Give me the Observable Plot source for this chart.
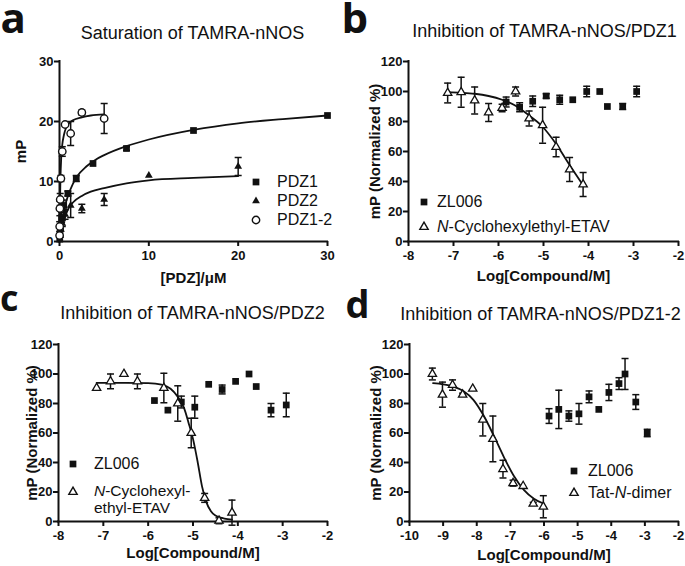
<!DOCTYPE html>
<html><head><meta charset="utf-8">
<script src="https://cdn.jsdelivr.net/npm/d3@7"></script>
<script src="https://cdn.jsdelivr.net/npm/@observablehq/plot@0.6"></script>
<style>
body{margin:0;background:#fff;}
#root{position:relative;width:685px;height:566px;overflow:hidden;background:#fff;font-family:"Liberation Sans",Arial,sans-serif;color:#111;}
.panel{position:absolute;}
.title{position:absolute;width:400px;text-align:center;font-size:18px;line-height:18px;white-space:nowrap;}
.letter{position:absolute;font-family:"Open Sans",sans-serif;font-weight:bold;white-space:nowrap;color:#111;}
.leg{position:absolute;font-size:16px;line-height:16px;white-space:nowrap;}
.sym{position:absolute;overflow:visible;}
</style></head><body><div id="root"></div>
<script>
// ---------- Panel a: Saturation of TAMRA-nNOS ----------
const aPdz1X = [30, 15, 7.5, 3.75, 1.875, 0.9375, 0.469, 0.234, 0.117, 0.059, 0.029];
const aPdz1Y = [21, 18.5, 15.5, 13, 10.5, 8, 6, 4, 2.2, 1.2, 0.4];
const aPdz1Err = [0, 0, 0.3, 0, 0.5, 0.4, 0.9, 0.8, 0, 0, 0];
const aPdz2X = [20, 10, 5, 2.5, 1.25, 0.625, 0.3125, 0.156, 0.078];
const aPdz2Y = [12.5, 11, 7, 5.5, 6, 4.5, 3, 2, 1];
const aPdz2Err = [1.5, 0, 1, 0.7, 2, 0.8, 0.5, 0, 0];
const aPdz12X = [5, 2.5, 1.25, 0.625, 0.3125, 0.156, 0.078, 0.039, 0.0195, 0.0098];
const aPdz12Y = [20.5, 21.5, 18, 19.5, 15, 10.5, 7, 5.5, 2.5, 1];
const aPdz12Err = [2.5, 0.4, 2, 0, 0.8, 0.5, 1, 1.2, 0.8, 0];
const aFit1X = [0, 0.3, 0.6, 1, 1.5, 2, 3, 4, 5, 7.5, 10, 15, 20, 25, 30];
const aFit1Y = [0, 3.2, 5.8, 7.8, 9.6, 10.9, 12.5, 13.6, 14.4, 15.9, 17, 18.6, 19.7, 20.4, 21];
const aFit2X = [0, 0.3, 0.6, 1, 1.5, 2.5, 3.5, 5, 7.5, 10, 15, 20];
const aFit2Y = [0, 2.2, 4, 5.5, 6.5, 7.6, 8.3, 8.9, 9.7, 10.2, 10.6, 10.9];
const aFit12X = [0, 0.05, 0.1, 0.2, 0.3, 0.5, 0.75, 1, 1.5, 2.5, 3.5, 5];
const aFit12Y = [0, 6, 10, 14.2, 16, 17.8, 19, 19.6, 20.2, 20.7, 21, 21.2];
const aTicks = [0, 10, 20, 30];

// ---------- Panel b: Inhibition of TAMRA-nNOS/PDZ1 ----------
const bEtavX = [-7.13, -6.83, -6.53, -6.22, -5.92, -5.62, -5.32, -5.02, -4.72, -4.42, -4.12];
const bEtavY = [99, 99.5, 94, 86, 89, 100, 82, 77.5, 63, 48, 38];
const bEtavErr = [6.6, 10, 9, 6, 2.5, 3, 5, 12, 6.5, 8, 8];
const bZlX = [-5.83, -5.53, -5.24, -4.94, -4.64, -4.35, -4.04, -3.75, -3.58, -3.24, -2.93];
const bZlY = [93, 89.5, 93.5, 97, 94.5, 94.5, 100, 100, 90, 90, 100];
const bZlErr = [3.3, 3, 3.5, 1.5, 3, 0, 3.5, 0, 0, 2, 3.5];
const bFitX = [-7.13, -6.83, -6.53, -6.22, -5.92, -5.62, -5.32, -5.02, -4.72, -4.42, -4.12];
const bFitY = [99.6, 99.2, 98.5, 97, 94.5, 90.5, 84, 76.5, 65, 51, 37.5];

// ---------- Panel c: Inhibition of TAMRA-nNOS/PDZ2 ----------
const cEtavX = [-7.15, -6.84, -6.54, -6.24, -5.65, -5.34, -5.04, -4.74, -4.42, -4.13];
const cEtavY = [90.5, 95, 100, 95, 90.5, 80, 60, 16, 0.5, 6];
const cEtavErr = [0, 5, 0, 5, 10, 12, 10, 3, 2, 8.5];
const cZlX = [-5.86, -5.56, -5.26, -4.96, -4.65, -4.35, -4.05, -3.75, -3.59, -3.26, -2.92];
const cZlY = [82, 75.5, 81, 77.5, 93, 89.5, 95, 100, 91.5, 75.5, 79];
const cZlErr = [0, 0, 4, 7.5, 0, 3, 0, 0, 0, 4.5, 8];
const cFitX = [-7.15, -6.5, -6, -5.7, -5.5, -5.35, -5.2, -5.1, -5.0, -4.9, -4.8, -4.7, -4.6, -4.5, -4.3, -4.13];
const cFitY = [94, 94, 93.8, 92.8, 90, 85, 77, 67, 56, 41, 24, 13, 7, 4, 2, 1.3];

// ---------- Panel d: Inhibition of TAMRA-nNOS/PDZ1-2 ----------
const dDimerX = [-9.32, -9.02, -8.72, -8.42, -8.12, -7.82, -7.52, -7.22, -6.92, -6.62, -6.32, -6.02];
const dDimerY = [100, 86, 92.5, 86, 90, 69, 56, 35.5, 26, 24, 12, 10];
const dDimerErr = [4, 8.5, 3.5, 1, 0, 11, 15.5, 6, 2, 0, 1, 7.5];
const dZlX = [-5.85, -5.56, -5.26, -4.96, -4.66, -4.37, -4.07, -3.77, -3.59, -3.27, -2.93];
const dZlY = [71.5, 76, 71.5, 73, 84.5, 76, 87.5, 93.5, 100, 81, 60];
const dZlErr = [5, 13, 3.5, 7, 4, 0, 5.5, 4, 10.5, 5, 2.5];
const dFitX = [-9.3, -9.0, -8.7, -8.4, -8.1, -7.8, -7.5, -7.2, -6.9, -6.6, -6.3, -6.0];
const dFitY = [93.8, 93, 91.5, 88.5, 82.5, 72, 58.5, 44, 31, 21.5, 15.5, 12];

const inhYTicks = [0, 20, 40, 60, 80, 100, 120];
const bcXTicks = [-8, -7, -6, -5, -4, -3, -2];
const dXTicks = [-10, -9, -8, -7, -6, -5, -4, -3, -2];

// ---------- helpers ----------
const INK = "#111";
const capSym = {draw(ctx) { ctx.moveTo(-3.5, 0); ctx.lineTo(3.5, 0); }};
const rows = (xs, ys, es) => xs.map((x, i) => ({x, y: ys[i], e: es ? es[i] : 0}));
const SQ = {symbol: "square", r: 3.8, fill: INK, stroke: "none"};
const TRI_OPEN = {symbol: "triangle", r: 3.1, fill: "white", stroke: INK, strokeWidth: 1.3};
const TRI_FILL = {symbol: "triangle", r: 2.9, fill: INK, stroke: "none"};
const CIRC = {symbol: "circle", r: 3.7, fill: "white", stroke: INK, strokeWidth: 1.4};

function errMarks(data) {
  const d = data.filter(r => r.e > 0);
  return [
    Plot.ruleX(d, {x: "x", y1: r => r.y - r.e, y2: r => r.y + r.e, stroke: INK, strokeWidth: 1.5}),
    Plot.dot(d, {x: "x", y: r => r.y - r.e, symbol: capSym, stroke: INK, strokeWidth: 1.5, fill: "none"}),
    Plot.dot(d, {x: "x", y: r => r.y + r.e, symbol: capSym, stroke: INK, strokeWidth: 1.5, fill: "none"})
  ];
}
function series(data, sym) {
  return [...errMarks(data), Plot.dot(data, {x: "x", y: "y", ...sym})];
}
function fit(xs, ys) {
  return Plot.line(rows(xs, ys), {x: "x", y: "y", curve: "monotone-x", stroke: INK, strokeWidth: 1.8});
}

const root = document.getElementById("root");
function panel(o) {
  const svg = Plot.plot({
    width: o.w, height: o.h,
    marginLeft: o.mL, marginRight: o.mR, marginTop: o.mT, marginBottom: o.mB,
    style: {background: "transparent", overflow: "visible", fontFamily: '"Liberation Sans", Arial, sans-serif', color: INK},
    x: {domain: o.xDom},
    y: {domain: o.yDom},
    marks: [
      Plot.axisX({ticks: o.xTicks, tickFormat: d => String(d), tickSize: 5, tickPadding: 4, fontSize: 13, fontWeight: "bold", strokeWidth: 2, label: null}),
      Plot.axisX({ticks: [], label: o.xLabel, labelAnchor: "center", labelOffset: o.xOff, labelArrow: "none", fontSize: 15, fontWeight: "bold"}),
      Plot.axisY({ticks: o.yTicks, tickFormat: d => String(d), tickSize: 5, tickPadding: 1, fontSize: 13, fontWeight: "bold", strokeWidth: 2, label: null}),
      Plot.axisY({ticks: [], label: o.yLabel, labelAnchor: "center", labelOffset: o.yOff, labelArrow: "none", fontSize: 15, fontWeight: "bold"}),
      ...o.marks,
      Plot.ruleX([o.xDom[0]], {stroke: INK, strokeWidth: 2, strokeLinecap: "square"}),
      Plot.ruleY([o.yDom[0]], {stroke: INK, strokeWidth: 2, strokeLinecap: "square"}),
      ...o.front
    ]
  });
  svg.classList.add("panel");
  svg.style.left = o.left + "px";
  svg.style.top = o.top + "px";
  root.appendChild(svg);
}

// Panel a
panel({
  left: 0, top: 0, w: 340, h: 290, mL: 59, mR: 13, mT: 61, mB: 49,
  xDom: [0, 30], yDom: [0, 30], xTicks: aTicks, yTicks: aTicks,
  xLabel: "[PDZ]/μM", xOff: 41, yLabel: "mP", yOff: 44,
  marks: [fit(aFit1X, aFit1Y), fit(aFit2X, aFit2Y), fit(aFit12X, aFit12Y)],
  front: [
    ...series(rows(aPdz1X, aPdz1Y, aPdz1Err), SQ),
    ...series(rows(aPdz2X, aPdz2Y, aPdz2Err), TRI_FILL),
    ...series(rows(aPdz12X, aPdz12Y, aPdz12Err), CIRC)
  ]
});
// Panel b
panel({
  left: 340, top: 0, w: 345, h: 290, mL: 68, mR: 7, mT: 61, mB: 49,
  xDom: [-8, -2], yDom: [0, 120], xTicks: bcXTicks, yTicks: inhYTicks,
  xLabel: "Log[Compound/M]", xOff: 39, yLabel: "mP (Normalized %)", yOff: 39,
  marks: [fit(bFitX, bFitY)],
  front: [
    ...series(rows(bZlX, bZlY, bZlErr), SQ),
    ...series(rows(bEtavX, bEtavY, bEtavErr), TRI_OPEN)
  ]
});
// Panel c
panel({
  left: 0, top: 283, w: 340, h: 283, mL: 58, mR: 13, mT: 61, mB: 45,
  xDom: [-8, -2], yDom: [0, 120], xTicks: bcXTicks, yTicks: inhYTicks,
  xLabel: "Log[Compound/M]", xOff: 36, yLabel: "mP (Normalized %)", yOff: 32,
  marks: [fit(cFitX, cFitY)],
  front: [
    ...series(rows(cZlX, cZlY, cZlErr), SQ),
    ...series(rows(cEtavX, cEtavY, cEtavErr), TRI_OPEN)
  ]
});
// Panel d
panel({
  left: 340, top: 283, w: 345, h: 283, mL: 69, mR: 7, mT: 61, mB: 45,
  xDom: [-10, -2], yDom: [0, 120], xTicks: dXTicks, yTicks: inhYTicks,
  xLabel: "Log[Compound/M]", xOff: 38, yLabel: "mP (Normalized %)", yOff: 39,
  marks: [fit(dFitX, dFitY)],
  front: [
    ...series(rows(dZlX, dZlY, dZlErr), SQ),
    ...series(rows(dDimerX, dDimerY, dDimerErr), TRI_OPEN)
  ]
});

// ---------- titles, panel letters, legends ----------
function addDiv(cls, html, css) {
  const el = document.createElement("div");
  el.className = cls;
  el.innerHTML = html;
  Object.assign(el.style, css);
  root.appendChild(el);
}
const titles = [
  ["Saturation of TAMRA-nNOS", 192.5, 39.5],
  ["Inhibition of TAMRA-nNOS/PDZ1", 544.5, 37.5],
  ["Inhibition of TAMRA-nNOS/PDZ2", 192.5, 319],
  ["Inhibition of TAMRA-nNOS/PDZ1-2", 540.5, 320.5]
];
titles.forEach(([t, cx, base]) => addDiv("title", t, {left: (cx - 200) + "px", top: (base - 0.8465 * 18) + "px"}));

// [letter, left, baseline, font size]; line box = 0.72 * size keeps it inside the page
const letters = [["a", 0.5, 33, 42], ["b", 341.5, 33, 42], ["c", 0, 312, 36], ["d", 345.5, 318, 38]];
letters.forEach(([t, x, base, f]) => {
  const lh = 0.72 * f;
  addDiv("letter", t, {left: x + "px", top: (base - lh / 2 - 0.388 * f) + "px", fontSize: f + "px", lineHeight: lh + "px"});
});

function symPath(kind) {
  const map = {
    sq: [d3.symbolSquare, 3.8], tri: [d3.symbolTriangle, 3.1], trif: [d3.symbolTriangle, 2.9], circ: [d3.symbolCircle, 3.7]
  };
  const [t, r] = map[kind];
  const d = d3.symbol(t, Math.PI * r * r)();
  const filled = kind === "sq" || kind === "trif";
  const style = filled ? `fill="${INK}"` : `fill="white" stroke="${INK}" stroke-width="1.4"`;
  return `<svg width="16" height="16"><path transform="translate(8,8)" d="${d}" ${style}/></svg>`;
}
const legends = [
  // [kind, symbol cx, cy, text x, html]
  ["sq", 256, 181.5, 277, "PDZ1"],
  ["trif", 256, 200.5, 277, "PDZ2"],
  ["circ", 256, 219.5, 277, "PDZ1-2"],
  ["sq", 424, 201.5, 437, "ZL006"],
  ["tri", 424, 226.5, 437, "<i>N</i>-Cyclohexylethyl-ETAV"],
  ["sq", 73, 464, 94, "ZL006"],
  ["tri", 73, 492, 94, "<i>N</i>-Cyclohexyl-<br>ethyl-ETAV"],
  ["sq", 574, 471, 588, "ZL006"],
  ["tri", 574, 493, 588, "Tat-<i>N</i>-dimer"]
];
legends.forEach(([k, cx, cy, tx, html]) => {
  addDiv("sym", symPath(k), {left: (cx - 8) + "px", top: (cy - 8) + "px", width: "16px", height: "16px"});
  const twoLine = html.includes("<br>");
  addDiv("leg", html, {left: tx + "px", top: (twoLine ? cy - 9 : cy - 8) + "px", lineHeight: twoLine ? "16.5px" : "16px", fontSize: twoLine ? "15.5px" : "16px"});
});
</script></body></html>
